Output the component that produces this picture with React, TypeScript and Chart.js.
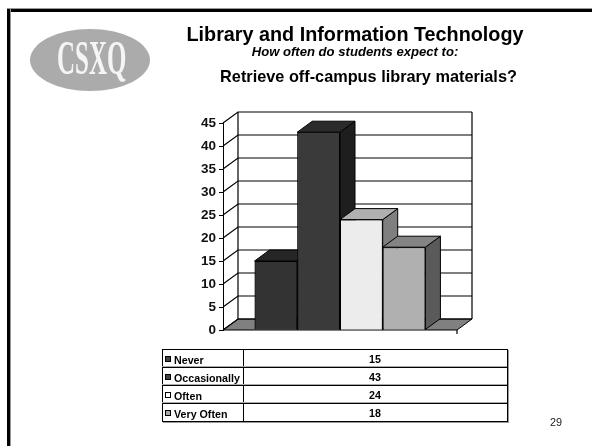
import React, { useEffect, useRef } from "react";
import { Chart, registerables } from "chart.js";

Chart.register(...registerables);

const categories = ["Never", "Occasionally", "Often", "Very Often"];
const values = [15, 43, 24, 18];
const frontColors = ["#333333", "#3a3a3a", "#ececec", "#b0b0b0"];
const topColors = ["#262626", "#2b2b2b", "#b0b0b0", "#848484"];
const sideColors = ["#1f1f1f", "#1e1e1e", "#7f7f7f", "#5a5a5a"];
const swatchColors = ["#444444", "#444444", "#ffffff", "#a8a8a8"];

const DX = 15;
const DY = 11;
const FONT = '"Liberation Sans", Arial, sans-serif';

function poly(ctx: CanvasRenderingContext2D, pts: number[][], fill: string | null, stroke = "#000") {
  ctx.beginPath();
  pts.forEach((p, i) => (i ? ctx.lineTo(p[0], p[1]) : ctx.moveTo(p[0], p[1])));
  ctx.closePath();
  if (fill) {
    ctx.fillStyle = fill;
    ctx.fill();
  }
  ctx.strokeStyle = stroke;
  ctx.lineWidth = 1;
  ctx.stroke();
}

const box3d = {
  id: "box3d",
  beforeDraw(chart: any) {
    const { ctx, chartArea: a, scales } = chart;
    const y = scales.y;
    ctx.save();
    ctx.fillStyle = "#fff";
    ctx.fillRect(a.left, a.top - DY, a.right - a.left + DX, a.bottom - a.top + DY);
    // floor
    poly(ctx, [[a.left, a.bottom], [a.right, a.bottom], [a.right + DX, a.bottom - DY], [a.left + DX, a.bottom - DY]], "#808080");
    // gridlines along side wall and back wall
    ctx.strokeStyle = "#000";
    ctx.lineWidth = 1.2;
    y.ticks.forEach((t: any) => {
      const py = y.getPixelForValue(t.value);
      ctx.beginPath();
      ctx.moveTo(a.left, py);
      ctx.lineTo(a.left + DX, py - DY);
      ctx.lineTo(a.right + DX, py - DY);
      ctx.stroke();
    });
    ctx.beginPath();
    ctx.moveTo(a.left + DX, a.top - DY);
    ctx.lineTo(a.left + DX, a.bottom - DY);
    ctx.moveTo(a.right + DX, a.top - DY);
    ctx.lineTo(a.right + DX, a.bottom - DY);
    ctx.moveTo(a.right, a.bottom);
    ctx.lineTo(a.right, a.bottom + 4);
    ctx.stroke();
    ctx.restore();
  },
  afterDatasetsDraw(chart: any) {
    const { ctx } = chart;
    ctx.save();
    chart.data.datasets.forEach((_: any, i: number) => {
      const bar = chart.getDatasetMeta(i).data[0];
      const { x, y, base, width } = bar.getProps(["x", "y", "base", "width"], true);
      const l = x - width / 2;
      const r = x + width / 2;
      poly(ctx, [[r, y], [r + DX, y - DY], [r + DX, base - DY], [r, base]], sideColors[i]);
      poly(ctx, [[l, y], [l + DX, y - DY], [r + DX, y - DY], [r, y]], topColors[i]);
      bar.draw(ctx);
    });
    ctx.restore();
  },
};

const abs = (style: React.CSSProperties): React.CSSProperties => ({ position: "absolute", ...style });
const rowTop = (i: number) => 349 + Math.round(i * 18);

export default function App() {
  const ref = useRef<HTMLCanvasElement>(null);
  useEffect(() => {
    const chart = new Chart(ref.current as HTMLCanvasElement, {
      type: "bar",
      data: {
        labels: [""],
        datasets: categories.map((c, i) => ({
          label: c,
          data: [values[i]],
          backgroundColor: frontColors[i],
          borderColor: "#000",
          borderWidth: 1,
          categoryPercentage: 0.73,
          barPercentage: 1,
        })),
      },
      options: {
        responsive: false,
        animation: false,
        layout: { padding: { left: 183, right: 135, top: 123, bottom: 116 } },
        plugins: { legend: { display: false }, title: { display: false }, tooltip: { enabled: false } },
        scales: {
          x: { display: false },
          y: {
            min: 0,
            max: 45,
            afterFit: (s: any) => {
              s.width = 40;
            },
            ticks: {
              stepSize: 5,
              color: "#111",
              padding: 3,
              font: { family: FONT, size: 13.5, weight: "bold" },
            },
            grid: { drawOnChartArea: false, drawTicks: true, tickLength: 4, color: "#000" },
            border: { display: true, color: "#000", width: 1 },
          },
        },
      },
      plugins: [box3d],
    } as any);
    return () => chart.destroy();
  }, []);

  return (
    <div style={{ position: "fixed", left: 0, top: 0, width: 592, height: 446, overflow: "hidden", background: "#fff", fontFamily: FONT, color: "#000" }}>
      <canvas ref={ref} width={592} height={446} style={{ position: "absolute", left: 0, top: 0 }} />
      <div style={abs({ left: 7, top: 9, width: 585, height: 3, background: "#000", boxShadow: "0 -1px 0 #999" })} />
      <div style={abs({ left: 7, top: 9, width: 2.5, height: 437, background: "#000", boxShadow: "1px 0 0 #999" })} />
      <svg width={130} height={70} style={abs({ left: 25, top: 25 })}>
        <ellipse cx={65} cy={35} rx={60} ry={31} fill="#ababab" />
        <text transform="translate(32 49) scale(0.52 1)" fontFamily='"Liberation Serif", serif' fontSize={48} fontWeight="bold" fill="#f5f5f5">CSXQ</text>
      </svg>
      <div style={abs({ left: 100, width: 510, top: 23, textAlign: "center", fontSize: 19.8, fontWeight: "bold", lineHeight: "22px", whiteSpace: "nowrap" })}>Library and Information Technology</div>
      <div style={abs({ left: 100, width: 510, top: 44.5, textAlign: "center", fontSize: 13.1, fontWeight: "bold", fontStyle: "italic", lineHeight: "13px", whiteSpace: "nowrap" })}>How often do students expect to:</div>
      <div style={abs({ left: 113.5, width: 510, top: 67, textAlign: "center", fontSize: 16.3, fontWeight: "bold", lineHeight: "18px", whiteSpace: "nowrap" })}>Retrieve off-campus library materials?</div>
      <div style={abs({ left: 162, top: 349, width: 344, height: 71, border: "1px solid #000", boxSizing: "content-box", boxShadow: "1px 1px 0 #999" })} />
      <div style={abs({ left: 243, top: 349, width: 1, height: 72, background: "#000" })} />
      {categories.map((c, i) => (
        <React.Fragment key={c}>
          {i > 0 && <div style={abs({ left: 162, top: rowTop(i), width: 345, height: 1, background: "#000", boxShadow: "0 -1px 0 #aaa" })} />}
          <div style={abs({ left: 165, top: rowTop(i) + 7, width: 4, height: 4, border: "1px solid #000", background: swatchColors[i] })} />
          <div style={abs({ left: 174, top: rowTop(i) + 4, fontSize: 10.7, fontWeight: "bold", lineHeight: "15px", whiteSpace: "nowrap" })}>{c}</div>
          <div style={abs({ left: 244, width: 262, top: rowTop(i) + 3, textAlign: "center", fontSize: 10.7, fontWeight: "bold", lineHeight: "15px" })}>{values[i]}</div>
        </React.Fragment>
      ))}
      <div style={abs({ left: 550, top: 416, fontSize: 10.8, lineHeight: "12px", color: "#222" })}>29</div>
    </div>
  );
}
